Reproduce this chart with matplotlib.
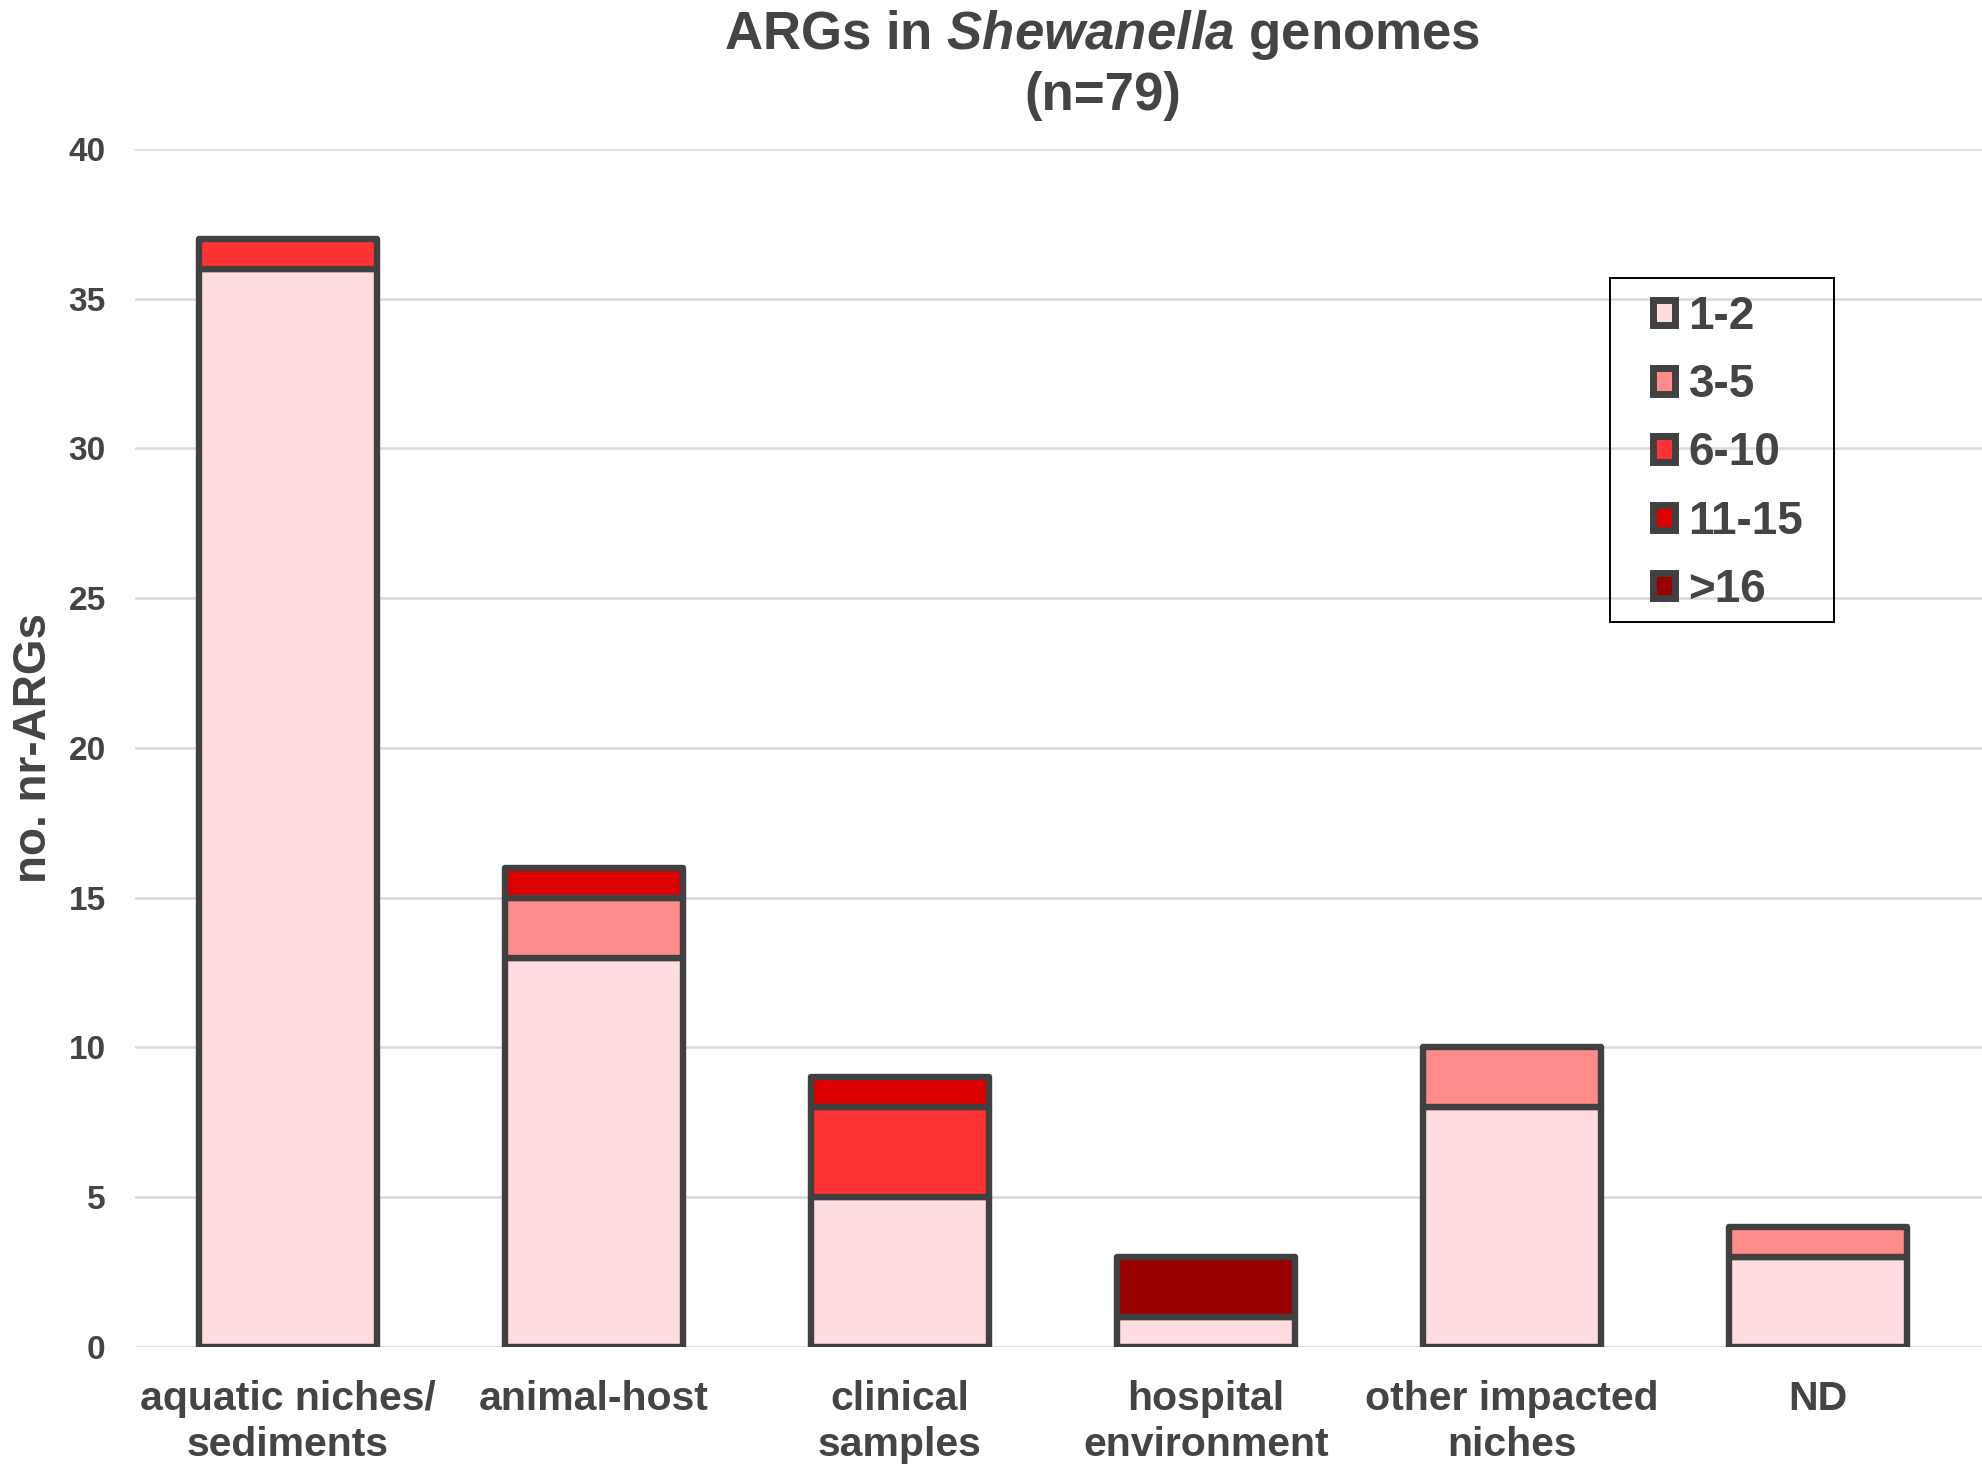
import numpy as np
import matplotlib
matplotlib.use("Agg")
from matplotlib import pyplot as plt
from matplotlib.patches import Patch, Rectangle

# categories and stacked counts
categories = ["aquatic niches/\nsediments", "animal-host", "clinical\nsamples",
              "hospital\nenvironment", "other impacted\nniches", "ND"]
ranges = ["1-2", "3-5", "6-10", "11-15", ">16"]
args_1_2 = [36, 13, 5, 1, 8, 3]
args_3_5 = [0, 2, 0, 0, 2, 1]
args_6_10 = [1, 0, 3, 0, 0, 0]
args_11_15 = [0, 1, 1, 0, 0, 0]
args_16 = [0, 0, 0, 2, 0, 0]
yticks = [0, 5, 10, 15, 20, 25, 30, 35, 40]

colors = ["#FFDCE0", "#FF8B8B", "#FF3333", "#DD0000", "#9A0000"]
edge = "#404040"
text_col = "#444444"

plt.rcParams["font.family"] = ["Liberation Sans", "DejaVu Sans"]
plt.rcParams["font.weight"] = "bold"
plt.rcParams["mathtext.fontset"] = "custom"
plt.rcParams["mathtext.rm"] = "Liberation Sans:bold"
plt.rcParams["mathtext.it"] = "Liberation Sans:italic:bold"

fig = plt.figure(figsize=(19.83, 14.74), dpi=100)
ax = fig.add_axes([0.068, 0.0862, 0.932, 0.8128])

x = np.arange(len(categories))
series = [args_1_2, args_3_5, args_6_10, args_11_15, args_16]
bottom = np.zeros(len(categories))
for vals, col in zip(series, colors):
    vals = np.array(vals, dtype=float)
    ax.bar(x, vals, 0.58, bottom=bottom, color=col, edgecolor=edge,
           linewidth=np.where(vals > 0, 4.6, 0), joinstyle="round", zorder=3)
    bottom += vals

ax.set_xlim(-0.5, 5.54)
ax.set_ylim(0, 40)
ax.set_yticks(yticks)
ax.set_xticks(x)
ax.set_xticklabels(categories, fontsize=29.5, color=text_col, linespacing=1.26)
ax.tick_params(axis="y", labelsize=24, labelcolor=text_col, length=0, pad=21)
ax.tick_params(axis="x", length=0, pad=24)
ax.grid(axis="y", color="#d9d9d9", linewidth=1.8, zorder=0)
ax.set_axisbelow(True)
for s in ax.spines.values():
    s.set_visible(False)

# y label
fig.text(0.017, 0.4925, "no. nr-ARGs", rotation=90, ha="center", va="center",
         fontsize=33, color=text_col)

# title
fig.text(0.556, 0.976, r"ARGs in $\mathit{Shewanella}$ genomes", ha="center", va="center",
         fontsize=38, color=text_col)
fig.text(0.556, 0.935, "(n=79)", ha="center", va="center", fontsize=38, color=text_col)

# legend: frameless entries plus a separate box
handles = [Patch(facecolor=c, edgecolor=edge, linewidth=5) for c in colors]
leg = fig.legend(handles, ranges, loc="upper left", bbox_to_anchor=(0.8335, 0.800),
                 fontsize=33, frameon=False, borderaxespad=0, borderpad=0,
                 handlelength=0.48, handleheight=0.48, handletextpad=0.3,
                 labelspacing=0.53)
for t in leg.get_texts():
    t.set_color(text_col)
fig.patches.append(Rectangle((0.8119, 0.578), 0.113, 0.2334, transform=fig.transFigure,
                             facecolor="none", edgecolor="black", linewidth=1.4))

fig.savefig("out.png", dpi=100)
